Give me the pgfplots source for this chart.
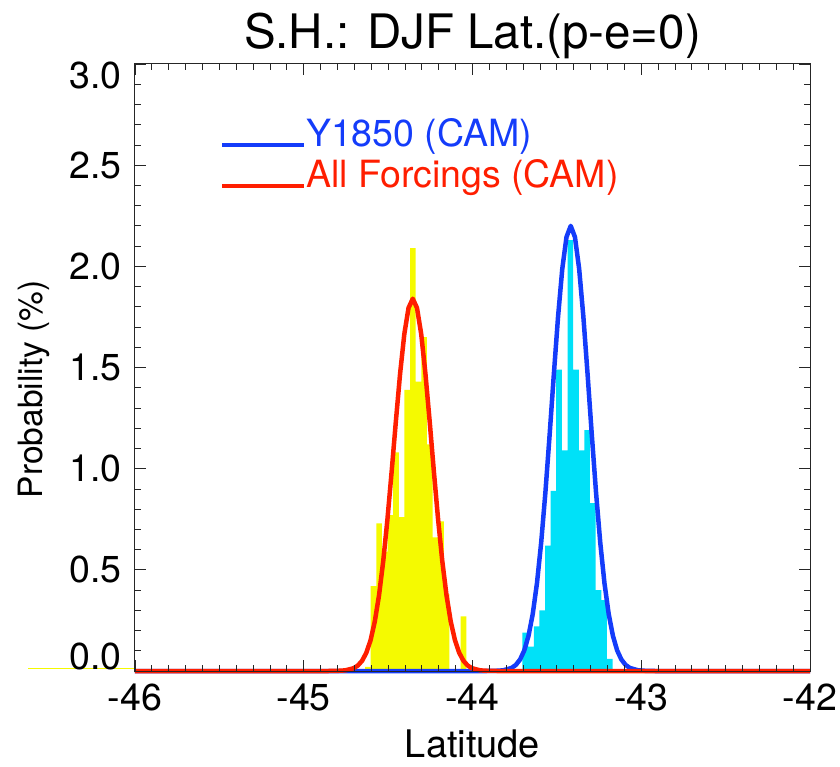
\documentclass[border=0pt]{standalone}
\usepackage{pgfplots}
\pgfplotsset{compat=1.18}
\usepackage{fontspec}
\setmainfont{TeX Gyre Heros}
\definecolor{idlblue}{RGB}{20,60,250}
\definecolor{idlred}{RGB}{255,30,0}
\definecolor{histyellow}{RGB}{245,250,0}
\definecolor{histcyan}{RGB}{0,225,248}
\begin{document}
\begin{tikzpicture}
\begin{axis}[
  scale only axis, width=675pt, height=607pt,
  xmin=-46, xmax=-42, ymin=0, ymax=3,
  clip=false,
  xtick={-46,-45,-44,-43,-42}, xticklabels={-46,-45,-44,-43,-42},
  ytick={0,0.5,1,1.5,2,2.5,3},
  yticklabels={\raisebox{15pt}[\height][\depth]{0.0},0.5,1.0,1.5,2.0,2.5,\raisebox{-11pt}[\height][\depth]{3.0}},
  minor x tick num=9, minor y tick num=4,
  tick align=inside, major tick length=11pt, minor tick length=6pt,
  axis on top=true,
  axis line style={line width=1pt, black!85},
  every tick/.style={black!85, line width=0.8pt},
  tick label style={font=\fontsize{37.5}{40}\selectfont, inner sep=0pt},
  xticklabel style={yshift=-13pt},
  yticklabel style={xshift=-13pt},
  title={S.H.: DJF Lat.(p-e=0)},
  title style={at={(axis description cs:0.5,1)}, anchor=base, yshift=9pt, inner sep=0pt, font=\fontsize{47.5}{50}\selectfont},
  xlabel={Latitude},
  xlabel style={at={(axis description cs:0.5,0)}, anchor=north, yshift=-59pt, inner sep=0pt, font=\fontsize{38}{40}\selectfont},
  ylabel={Probability (\%)},
  ylabel style={at={(axis description cs:-0.126,0.464)}, rotate=0, anchor=south, inner sep=0pt, font=\fontsize{33.5}{36}\selectfont},
  legend style={draw=none, fill=none, legend cell align=left, at={(axis cs:-45.496,2.733)}, anchor=north west, inner sep=0pt, outer sep=0pt, font=\fontsize{37.5}{40}\selectfont, row sep=5pt, column sep=0pt, nodes={inner sep=0pt, text height=28pt, text depth=8pt}},
  legend image code/.code={\path[draw=none, fill=none] (0pt,-12pt) -- (0pt,12pt); \draw[#1, line width=4pt] (0pt,-8.5pt) -- (82pt,-8.5pt);},
]
% stray zero line of the yellow histogram left of the frame
\addplot[histyellow, line width=1.5pt, forget plot] coordinates {(-46.634,0.012) (-46,0.012)};
% All Forcings histogram (yellow)
\addplot[ybar interval, fill=histyellow, draw=none, forget plot] coordinates {
(-44.637,0.02) (-44.603,0.42) (-44.570,0.73) (-44.537,0.59) (-44.503,0.77)
(-44.470,1.08) (-44.437,0.76) (-44.403,1.39) (-44.370,2.09) (-44.337,1.43)
(-44.303,1.65) (-44.270,1.12) (-44.237,0.66) (-44.203,0.74) (-44.170,0.38)
(-44.137,0) (-44.103,0) (-44.070,0.27) (-44.037,0.27)
};
% Y1850 histogram (cyan)
\addplot[ybar interval, fill=histcyan, draw=none, forget plot] coordinates {
(-43.704,0.19) (-43.670,0.12) (-43.637,0.22) (-43.604,0.30) (-43.570,0.62)
(-43.537,0.89) (-43.504,1.49) (-43.470,1.09) (-43.437,2.13) (-43.404,1.49)
(-43.370,1.09) (-43.337,1.19) (-43.304,0.83) (-43.270,0.40) (-43.237,0.35)
(-43.204,0.06) (-43.170,0.06)
};
% Y1850 fitted curve (blue)
\addplot[idlblue, line width=4.5pt, line join=round] coordinates {
(-46,0) (-43.918,0) (-43.868,0.0006) (-43.818,0.0033) (-43.768,0.0152)
(-43.743,0.0302) (-43.718,0.0570) (-43.693,0.1022) (-43.668,0.1742)
(-43.643,0.2819) (-43.618,0.4340) (-43.593,0.6349) (-43.568,0.8828)
(-43.543,1.1670) (-43.518,1.4662) (-43.493,1.7510) (-43.468,1.9877)
(-43.443,2.1449) (-43.418,2.20) (-43.393,2.1449) (-43.368,1.9877)
(-43.343,1.7510) (-43.318,1.4662) (-43.293,1.1670) (-43.268,0.8828)
(-43.243,0.6349) (-43.218,0.4340) (-43.193,0.2819) (-43.168,0.1742)
(-43.143,0.1022) (-43.118,0.0570) (-43.093,0.0302) (-43.068,0.0152)
(-43.018,0.0033) (-42.968,0.0006) (-42.918,0) (-42,0)
};
\addlegendentry{\textcolor{idlblue}{Y1850 (CAM)}}
% All Forcings fitted curve (red)
\addplot[idlred, line width=4.5pt, line join=round] coordinates {
(-46,0) (-44.854,0) (-44.804,0.0006) (-44.754,0.0031) (-44.704,0.0139)
(-44.679,0.0273) (-44.654,0.0509) (-44.629,0.0903) (-44.604,0.1524)
(-44.579,0.2446) (-44.554,0.3736) (-44.529,0.5429) (-44.504,0.7504)
(-44.479,0.9870) (-44.454,1.2352) (-44.429,1.4704) (-44.404,1.6655)
(-44.379,1.7947) (-44.354,1.84) (-44.329,1.7947) (-44.304,1.6655)
(-44.279,1.4704) (-44.254,1.2352) (-44.229,0.9870) (-44.204,0.7504)
(-44.179,0.5429) (-44.154,0.3736) (-44.129,0.2446) (-44.104,0.1524)
(-44.079,0.0903) (-44.054,0.0509) (-44.029,0.0273) (-44.004,0.0139)
(-43.954,0.0031) (-43.904,0.0006) (-43.854,0) (-42,0)
};
\addlegendentry{\textcolor{idlred}{All Forcings (CAM)}}
\end{axis}
\path[use as bounding box] ([xshift=-135pt,yshift=-95pt]current axis.south west) rectangle ([xshift=30pt,yshift=64pt]current axis.north east);
\end{tikzpicture}
\end{document}
